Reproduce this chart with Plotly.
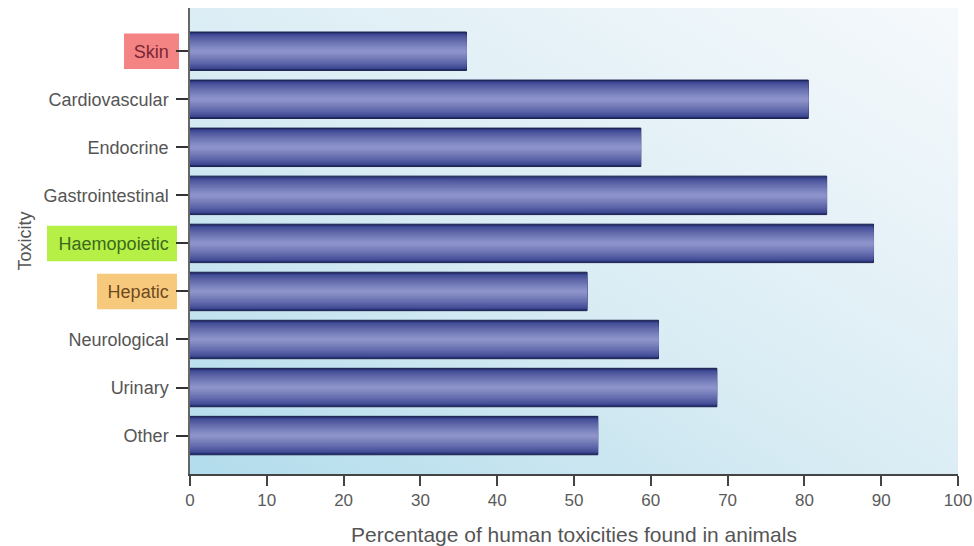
import base64
import plotly.graph_objects as go

# Toxicity categories (top to bottom) and share of human toxicities seen in animals (%)
categories = ["Skin", "Cardiovascular", "Endocrine", "Gastrointestinal", "Haemopoietic",
              "Hepatic", "Neurological", "Urinary", "Other"]
percent = [36.0, 80.5, 58.7, 82.9, 89.0, 51.7, 61.0, 68.6, 53.1]

x_ticks = [0, 10, 20, 30, 40, 50, 60, 70, 80, 90, 100]

# Highlighted labels: (category, box colour, text colour, box left/right offsets in px)
highlights = [
    ("Skin", "#f48383", "#7a2636", -66, -11),
    ("Haemopoietic", "#b6f046", "#3b6a1c", -143, -13),
    ("Hepatic", "#f7c97c", "#6e4a1e", -93, -13),
]
hl_text = {h[0]: h[2] for h in highlights}
tick_text = [
    f"<span style='color:{hl_text[c]}'>{c}</span>" if c in hl_text else c
    for c in categories
]

fig = go.Figure()


def mix(c1, c2, t):
    a = [int(c1[i:i + 2], 16) for i in (1, 3, 5)]
    b = [int(c2[i:i + 2], 16) for i in (1, 3, 5)]
    return "#" + "".join(f"{round(x + (y - x) * t):02x}" for x, y in zip(a, b))


# Cylindrical shading: stacked bars of shrinking thickness, lighter towards the centre
outer_w, n_layers = 0.80, 14
fig.add_trace(go.Bar(
    x=percent, y=categories, orientation="h", width=outer_w,
    marker=dict(color="#262e66", line=dict(color="#1b2150", width=1)),
    hoverinfo="x+y", showlegend=False,
))
for k in range(n_layers):
    t = k / (n_layers - 1)
    w = 0.74 * (1 - t) + 0.06 * t
    col = mix("#3a4590", "#8d93ca", t ** 0.8)
    fig.add_trace(go.Bar(
        x=percent, y=categories, orientation="h", width=w,
        marker=dict(color=col, line=dict(width=0)),
        hoverinfo="skip", showlegend=False,
    ))

# Soft diagonal backdrop for the plotting area
svg = (
    "<svg xmlns='http://www.w3.org/2000/svg' width='768' height='465' preserveAspectRatio='none'>"
    "<defs><linearGradient id='g' x1='0' y1='1' x2='1' y2='0'>"
    "<stop offset='0' stop-color='#b2dcec'/>"
    "<stop offset='0.45' stop-color='#d9ecf4'/>"
    "<stop offset='1' stop-color='#f6f9fc'/>"
    "</linearGradient></defs>"
    "<rect width='768' height='465' fill='url(#g)'/></svg>"
)
src = "data:image/svg+xml;base64," + base64.b64encode(svg.encode()).decode()
fig.add_layout_image(dict(source=src, xref="paper", yref="paper", x=0, y=1,
                          sizex=1, sizey=1, sizing="stretch", layer="below",
                          xanchor="left", yanchor="top"))

# Coloured boxes behind selected category labels
for cat, box, _txt, x0, x1 in highlights:
    i = categories.index(cat)
    fig.add_shape(type="rect", xref="paper", xsizemode="pixel", xanchor=0,
                  x0=x0, x1=x1, yref="y", y0=i - 0.37, y1=i + 0.37,
                  fillcolor=box, line=dict(width=0), layer="below")

font = "Liberation Sans, Arial, Helvetica, sans-serif"
fig.update_layout(
    width=974, height=546,
    margin=dict(l=190, r=16, t=8, b=72, autoexpand=False),
    paper_bgcolor="white", plot_bgcolor="rgba(0,0,0,0)",
    barmode="overlay",
    font=dict(family=font, color="#555555", size=18),
    xaxis=dict(
        range=[0, 100], tickvals=x_ticks, ticks="outside", ticklen=10,
        tickwidth=1.5, tickcolor="#444444", showline=True, linecolor="#444444",
        linewidth=1.5, showgrid=False, zeroline=False,
        automargin=False, ticklabeloverflow="allow",
        tickfont=dict(size=17, color="#5a5a5a"),
        title=dict(text="Percentage of human toxicities found in animals",
                   font=dict(size=21, color="#555555"), standoff=22),
    ),
    yaxis=dict(
        categoryorder="array", categoryarray=categories,
        tickvals=categories, ticktext=tick_text,
        range=[8.8, -0.9], ticks="outside", ticklen=12, tickwidth=1.5,
        tickcolor="#333333", showline=True, linecolor="#666666", linewidth=1.5,
        showgrid=False, zeroline=False, ticklabelstandoff=4, automargin=False,
        tickfont=dict(size=18, color="#555555"),
        title=dict(text="Toxicity", font=dict(size=18, color="#555555"), standoff=7),
    ),
)

fig.write_html("out.html")
